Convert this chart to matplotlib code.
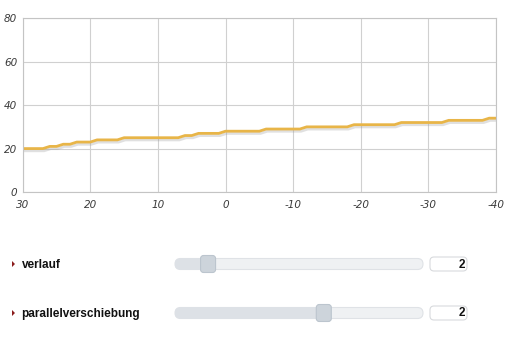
import numpy as np
import matplotlib
matplotlib.use("Agg")
import matplotlib.pyplot as plt
import matplotlib.patheffects as pe
from matplotlib.patches import FancyBboxPatch, Polygon

# daten der kurve (x von 30 bis -40)
x_vals = list(range(30, -41, -1))
y_vals = [20, 20, 20, 20, 21, 21, 22, 22, 23, 23,
          23, 24, 24, 24, 24, 25, 25, 25, 25, 25,
          25, 25, 25, 25, 26, 26, 27, 27, 27, 27,
          28, 28, 28, 28, 28, 28, 29, 29, 29, 29,
          29, 29, 30, 30, 30, 30, 30, 30, 30, 31,
          31, 31, 31, 31, 31, 31, 32, 32, 32, 32,
          32, 32, 32, 33, 33, 33, 33, 33, 33, 34,
          34]
x_ticks = [30, 20, 10, 0, -10, -20, -30, -40]
y_ticks = [0, 20, 40, 60, 80]

# schieberegler
slider_labels = ["verlauf", "parallelverschiebung"]
slider_values = [2, 2]
slider_min = [0, -10]
slider_max = [15, 10]

fig = plt.figure(figsize=(5.25, 3.4), dpi=100)
ax = fig.add_axes([22.7 / 525, 1 - 192 / 340, (496 - 22.7) / 525, (192 - 18.3) / 340])

ax.plot(x_vals, y_vals, color="#e8b548", lw=2, solid_joinstyle="round",
        path_effects=[pe.SimpleLineShadow(offset=(0.8, -1.6), shadow_color="#999999", alpha=0.3),
                      pe.Normal()])

ax.set_xlim(30, -40)
ax.set_ylim(0, 80)
ax.set_xticks(x_ticks)
ax.set_yticks(y_ticks)
ax.set_xticklabels([str(v) for v in x_ticks])
ax.set_yticklabels([str(v) for v in y_ticks])
ax.grid(True, color="#d0d0d0", lw=0.8)
ax.set_axisbelow(True)
for s in ax.spines.values():
    s.set_color("#c4c4c4")
    s.set_linewidth(0.8)
ax.tick_params(length=0, labelsize=7.5, colors="#3a3a3a")
ax.tick_params(axis="x", pad=6)
ax.tick_params(axis="y", pad=4)
for lab in ax.get_xticklabels() + ax.get_yticklabels():
    lab.set_fontstyle("italic")

# untere leiste als pixel-achse
ui = fig.add_axes([0, 0, 1, 1])
ui.set_xlim(0, 525)
ui.set_ylim(340, 0)
ui.axis("off")

rows = [264, 313]
for i, lab in enumerate(slider_labels):
    yc = rows[i]
    ui.add_patch(Polygon([[12, yc - 3], [12, yc + 3], [15, yc]], closed=True,
                         color="#8b1c1c", lw=0))
    ui.text(21.5, yc + 0.5, lab, fontsize=8.5, fontweight="bold", family="Liberation Sans",
            color="#111111", va="center", ha="left")
    # spur
    ui.add_patch(FancyBboxPatch((175, yc - 5.5), 248, 11,
                                boxstyle="round,pad=0,rounding_size=5.5",
                                fc="#eff1f3", ec="#dfe2e6", lw=0.8))
    frac = (slider_values[i] - slider_min[i]) / (slider_max[i] - slider_min[i])
    tx = 175 + frac * 248
    ui.add_patch(FancyBboxPatch((175, yc - 5.5), tx - 175, 11,
                                boxstyle="round,pad=0,rounding_size=5.5",
                                fc="#dde1e6", ec="none"))
    # knopf
    ui.add_patch(FancyBboxPatch((tx - 7.5, yc - 8.5), 15, 17,
                                boxstyle="round,pad=0,rounding_size=3",
                                fc="#cdd4db", ec="#bcc5ce", lw=0.8))
    # wertfeld
    ui.add_patch(FancyBboxPatch((430, yc - 7), 37, 14,
                                boxstyle="round,pad=0,rounding_size=4",
                                fc="white", ec="#d8dadd", lw=0.8))
    ui.text(465, yc + 0.5, str(slider_values[i]), fontsize=8.5, fontweight="bold",
            family="Liberation Sans", color="#111111", va="center", ha="right")

fig.savefig("out.png", dpi=100)
